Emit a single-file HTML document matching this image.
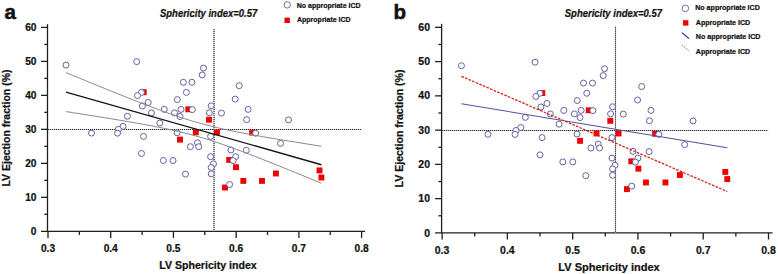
<!DOCTYPE html>
<html><head><meta charset="utf-8"><style>
html,body{margin:0;padding:0;background:#fff;width:778px;height:274px;overflow:hidden}
svg{display:block}
.b{font-family:"Liberation Sans",sans-serif;font-weight:bold;fill:#111;stroke:#111;stroke-width:0.22px}
.bi{font-family:"Liberation Sans",sans-serif;font-weight:bold;font-style:italic;fill:#111;stroke:#111;stroke-width:0.22px}
</style></head><body>
<svg width="778" height="274" viewBox="0 0 778 274">
<text x="4.6" y="19.1" font-size="20.6" class="b" style="stroke-width:0.5px">a</text>
<text x="160" y="16.8" font-size="10.1" textLength="97.2" lengthAdjust="spacingAndGlyphs" class="bi">Sphericity index=0.57</text>
<circle cx="287.3" cy="4.9" r="3.2" fill="#fff" stroke="#7070aa" stroke-width="1.0"/>
<rect x="284.5" y="17.6" width="5.4" height="5.4" fill="#f00000"/>
<text x="296.8" y="7.7" font-size="7.0" class="b">No appropriate ICD</text>
<text x="297" y="22" font-size="7.0" class="b">Appropriate ICD</text>
<line x1="47.5" y1="24.2" x2="47.5" y2="231.3" stroke="#1e1e1e" stroke-width="1.3" />
<line x1="41" y1="231.3" x2="365" y2="231.3" stroke="#1e1e1e" stroke-width="1.3" />
<text x="36.5" y="234.9" font-size="10.2" text-anchor="end" class="b">0</text>
<line x1="44.3" y1="214.31" x2="47.5" y2="214.31" stroke="#1e1e1e" stroke-width="1.3" />
<line x1="41" y1="197.32" x2="47.5" y2="197.32" stroke="#1e1e1e" stroke-width="1.3" />
<text x="36.5" y="200.92" font-size="10.2" text-anchor="end" class="b">10</text>
<line x1="44.3" y1="180.33" x2="47.5" y2="180.33" stroke="#1e1e1e" stroke-width="1.3" />
<line x1="41" y1="163.34" x2="47.5" y2="163.34" stroke="#1e1e1e" stroke-width="1.3" />
<text x="36.5" y="166.94" font-size="10.2" text-anchor="end" class="b">20</text>
<line x1="44.3" y1="146.35" x2="47.5" y2="146.35" stroke="#1e1e1e" stroke-width="1.3" />
<line x1="41" y1="129.36" x2="47.5" y2="129.36" stroke="#1e1e1e" stroke-width="1.3" />
<text x="36.5" y="132.96" font-size="10.2" text-anchor="end" class="b">30</text>
<line x1="44.3" y1="112.37" x2="47.5" y2="112.37" stroke="#1e1e1e" stroke-width="1.3" />
<line x1="41" y1="95.38" x2="47.5" y2="95.38" stroke="#1e1e1e" stroke-width="1.3" />
<text x="36.5" y="98.98" font-size="10.2" text-anchor="end" class="b">40</text>
<line x1="44.3" y1="78.39" x2="47.5" y2="78.39" stroke="#1e1e1e" stroke-width="1.3" />
<line x1="41" y1="61.4" x2="47.5" y2="61.4" stroke="#1e1e1e" stroke-width="1.3" />
<text x="36.5" y="65" font-size="10.2" text-anchor="end" class="b">50</text>
<line x1="44.3" y1="44.41" x2="47.5" y2="44.41" stroke="#1e1e1e" stroke-width="1.3" />
<line x1="41" y1="27.42" x2="47.5" y2="27.42" stroke="#1e1e1e" stroke-width="1.3" />
<text x="36.5" y="31.02" font-size="10.2" text-anchor="end" class="b">60</text>
<line x1="48" y1="231.3" x2="48" y2="237.9" stroke="#1e1e1e" stroke-width="1.3" />
<text x="48" y="252.3" font-size="10.2" text-anchor="middle" class="b">0.3</text>
<line x1="79.36" y1="231.3" x2="79.36" y2="234.9" stroke="#1e1e1e" stroke-width="1.3" />
<line x1="110.72" y1="231.3" x2="110.72" y2="237.9" stroke="#1e1e1e" stroke-width="1.3" />
<text x="110.72" y="252.3" font-size="10.2" text-anchor="middle" class="b">0.4</text>
<line x1="142.08" y1="231.3" x2="142.08" y2="234.9" stroke="#1e1e1e" stroke-width="1.3" />
<line x1="173.44" y1="231.3" x2="173.44" y2="237.9" stroke="#1e1e1e" stroke-width="1.3" />
<text x="173.44" y="252.3" font-size="10.2" text-anchor="middle" class="b">0.5</text>
<line x1="204.8" y1="231.3" x2="204.8" y2="234.9" stroke="#1e1e1e" stroke-width="1.3" />
<line x1="236.16" y1="231.3" x2="236.16" y2="237.9" stroke="#1e1e1e" stroke-width="1.3" />
<text x="236.16" y="252.3" font-size="10.2" text-anchor="middle" class="b">0.6</text>
<line x1="267.52" y1="231.3" x2="267.52" y2="234.9" stroke="#1e1e1e" stroke-width="1.3" />
<line x1="298.88" y1="231.3" x2="298.88" y2="237.9" stroke="#1e1e1e" stroke-width="1.3" />
<text x="298.88" y="252.3" font-size="10.2" text-anchor="middle" class="b">0.7</text>
<line x1="330.24" y1="231.3" x2="330.24" y2="234.9" stroke="#1e1e1e" stroke-width="1.3" />
<line x1="361.6" y1="231.3" x2="361.6" y2="237.9" stroke="#1e1e1e" stroke-width="1.3" />
<text x="361.6" y="252.3" font-size="10.2" text-anchor="middle" class="b">0.8</text>
<text x="208" y="268.8" font-size="10.6" text-anchor="middle" class="b">LV Sphericity index</text>
<text transform="translate(9.9,128) rotate(-90)" font-size="10.5" text-anchor="middle" class="b">LV Ejection fraction (%)</text>
<line x1="48" y1="129.5" x2="361.3" y2="129.5" stroke="#c8c8c8" stroke-width="1.0" />
<line x1="48" y1="129.5" x2="361.3" y2="129.5" stroke="#222" stroke-width="1.0" stroke-dasharray="1 1"/>
<line x1="214.02" y1="29.12" x2="214.02" y2="231.3" stroke="#c0c0c0" stroke-width="1.0" />
<line x1="214.02" y1="29.12" x2="214.02" y2="231.3" stroke="#2a2a2a" stroke-width="1.15" stroke-dasharray="1 1"/>
<rect x="140.75" y="89.25" width="5.9" height="5.9" fill="#f00000"/>
<rect x="185.35" y="106.35" width="5.9" height="5.9" fill="#f00000"/>
<rect x="177.05" y="136.65" width="5.9" height="5.9" fill="#f00000"/>
<rect x="192.85" y="129.35" width="5.9" height="5.9" fill="#f00000"/>
<rect x="206.05" y="116.75" width="5.9" height="5.9" fill="#f00000"/>
<rect x="214.05" y="129.35" width="5.9" height="5.9" fill="#f00000"/>
<rect x="249.15" y="129.65" width="5.9" height="5.9" fill="#f00000"/>
<rect x="226.25" y="156.95" width="5.9" height="5.9" fill="#f00000"/>
<rect x="233.05" y="164.25" width="5.9" height="5.9" fill="#f00000"/>
<rect x="240.35" y="177.95" width="5.9" height="5.9" fill="#f00000"/>
<rect x="259.05" y="177.95" width="5.9" height="5.9" fill="#f00000"/>
<rect x="222.05" y="184.55" width="5.9" height="5.9" fill="#f00000"/>
<rect x="272.95" y="170.55" width="5.9" height="5.9" fill="#f00000"/>
<rect x="316.55" y="167.45" width="5.9" height="5.9" fill="#f00000"/>
<rect x="318.45" y="174.55" width="5.9" height="5.9" fill="#f00000"/>
<circle cx="66" cy="65.1" r="3" fill="#fff" stroke="#6262a2" stroke-width="1.0"/>
<circle cx="136.7" cy="61.6" r="3" fill="#fff" stroke="#6262a2" stroke-width="1.0"/>
<circle cx="183.3" cy="82.3" r="3" fill="#fff" stroke="#6262a2" stroke-width="1.0"/>
<circle cx="191.9" cy="82.3" r="3" fill="#fff" stroke="#6262a2" stroke-width="1.0"/>
<circle cx="203.5" cy="68.1" r="3" fill="#fff" stroke="#6262a2" stroke-width="1.0"/>
<circle cx="202.2" cy="74.9" r="3" fill="#fff" stroke="#6262a2" stroke-width="1.0"/>
<circle cx="186.4" cy="92.4" r="3" fill="#fff" stroke="#6262a2" stroke-width="1.0"/>
<circle cx="177.3" cy="99.6" r="3" fill="#fff" stroke="#6262a2" stroke-width="1.0"/>
<circle cx="141.4" cy="92.4" r="3" fill="#fff" stroke="#6262a2" stroke-width="1.0"/>
<circle cx="137.5" cy="95.6" r="3" fill="#fff" stroke="#6262a2" stroke-width="1.0"/>
<circle cx="148.2" cy="102.5" r="3" fill="#fff" stroke="#6262a2" stroke-width="1.0"/>
<circle cx="142.4" cy="106" r="3" fill="#fff" stroke="#6262a2" stroke-width="1.0"/>
<circle cx="164.3" cy="109.4" r="3" fill="#fff" stroke="#6262a2" stroke-width="1.0"/>
<circle cx="181" cy="109.4" r="3" fill="#fff" stroke="#6262a2" stroke-width="1.0"/>
<circle cx="192.3" cy="109.6" r="3" fill="#fff" stroke="#6262a2" stroke-width="1.0"/>
<circle cx="174.5" cy="112.9" r="3" fill="#fff" stroke="#6262a2" stroke-width="1.0"/>
<circle cx="180" cy="116.5" r="3" fill="#fff" stroke="#6262a2" stroke-width="1.0"/>
<circle cx="151.4" cy="112.9" r="3" fill="#fff" stroke="#6262a2" stroke-width="1.0"/>
<circle cx="127.4" cy="116.3" r="3" fill="#fff" stroke="#6262a2" stroke-width="1.0"/>
<circle cx="159.8" cy="123.1" r="3" fill="#fff" stroke="#6262a2" stroke-width="1.0"/>
<circle cx="123" cy="126.4" r="3" fill="#fff" stroke="#6262a2" stroke-width="1.0"/>
<circle cx="118.4" cy="129.3" r="3" fill="#fff" stroke="#6262a2" stroke-width="1.0"/>
<circle cx="117.5" cy="133.2" r="3" fill="#fff" stroke="#6262a2" stroke-width="1.0"/>
<circle cx="91.5" cy="133.1" r="3" fill="#fff" stroke="#6262a2" stroke-width="1.0"/>
<circle cx="143.5" cy="136.4" r="3" fill="#fff" stroke="#6262a2" stroke-width="1.0"/>
<circle cx="177.1" cy="132.8" r="3" fill="#fff" stroke="#6262a2" stroke-width="1.0"/>
<circle cx="190.4" cy="146.7" r="3" fill="#fff" stroke="#6262a2" stroke-width="1.0"/>
<circle cx="197.5" cy="142.8" r="3" fill="#fff" stroke="#6262a2" stroke-width="1.0"/>
<circle cx="198.7" cy="146.7" r="3" fill="#fff" stroke="#6262a2" stroke-width="1.0"/>
<circle cx="141.5" cy="153.5" r="3" fill="#fff" stroke="#6262a2" stroke-width="1.0"/>
<circle cx="163.4" cy="160.5" r="3" fill="#fff" stroke="#6262a2" stroke-width="1.0"/>
<circle cx="173" cy="160.5" r="3" fill="#fff" stroke="#6262a2" stroke-width="1.0"/>
<circle cx="185.5" cy="174.1" r="3" fill="#fff" stroke="#6262a2" stroke-width="1.0"/>
<circle cx="239.2" cy="85.7" r="3" fill="#fff" stroke="#6262a2" stroke-width="1.0"/>
<circle cx="235.2" cy="99.1" r="3" fill="#fff" stroke="#6262a2" stroke-width="1.0"/>
<circle cx="211.2" cy="105.8" r="3" fill="#fff" stroke="#6262a2" stroke-width="1.0"/>
<circle cx="209.3" cy="112.8" r="3" fill="#fff" stroke="#6262a2" stroke-width="1.0"/>
<circle cx="221.5" cy="113.1" r="3" fill="#fff" stroke="#6262a2" stroke-width="1.0"/>
<circle cx="248.1" cy="109.4" r="3" fill="#fff" stroke="#6262a2" stroke-width="1.0"/>
<circle cx="246.6" cy="119.7" r="3" fill="#fff" stroke="#6262a2" stroke-width="1.0"/>
<circle cx="288.5" cy="119.9" r="3" fill="#fff" stroke="#6262a2" stroke-width="1.0"/>
<circle cx="255.6" cy="133.2" r="3" fill="#fff" stroke="#6262a2" stroke-width="1.0"/>
<circle cx="210.6" cy="136.4" r="3" fill="#fff" stroke="#6262a2" stroke-width="1.0"/>
<circle cx="280.5" cy="143.4" r="3" fill="#fff" stroke="#6262a2" stroke-width="1.0"/>
<circle cx="230.9" cy="150" r="3" fill="#fff" stroke="#6262a2" stroke-width="1.0"/>
<circle cx="246.3" cy="150.3" r="3" fill="#fff" stroke="#6262a2" stroke-width="1.0"/>
<circle cx="210.6" cy="156.7" r="3" fill="#fff" stroke="#6262a2" stroke-width="1.0"/>
<circle cx="235.6" cy="156.7" r="3" fill="#fff" stroke="#6262a2" stroke-width="1.0"/>
<circle cx="233.1" cy="160.6" r="3" fill="#fff" stroke="#6262a2" stroke-width="1.0"/>
<circle cx="213.5" cy="163.8" r="3" fill="#fff" stroke="#6262a2" stroke-width="1.0"/>
<circle cx="211.2" cy="167.4" r="3" fill="#fff" stroke="#6262a2" stroke-width="1.0"/>
<circle cx="211.2" cy="173.8" r="3" fill="#fff" stroke="#6262a2" stroke-width="1.0"/>
<circle cx="229.6" cy="184.5" r="3" fill="#fff" stroke="#6262a2" stroke-width="1.0"/>
<line x1="66" y1="92.08" x2="321.4" y2="164.74" stroke="#151515" stroke-width="1.35" />
<polyline points="66,72.58 72.55,75.29 79.1,77.99 85.65,80.69 92.19,83.37 98.74,86.05 105.29,88.72 111.84,91.37 118.39,94.01 124.94,96.63 131.49,99.22 138.04,101.8 144.58,104.34 151.13,106.84 157.68,109.29 164.23,111.69 170.78,114.02 177.33,116.26 183.88,118.42 190.43,120.47 196.97,122.4 203.52,124.21 210.07,125.91 216.62,127.5 223.17,129 229.72,130.41 236.27,131.75 242.82,133.03 249.36,134.27 255.91,135.46 262.46,136.62 269.01,137.75 275.56,138.86 282.11,139.95 288.66,141.03 295.21,142.09 301.75,143.14 308.3,144.18 314.85,145.22 321.4,146.24" fill="none" stroke="#8a8a8a" stroke-width="1.0"/>
<polyline points="66,111.58 72.55,112.6 79.1,113.62 85.65,114.66 92.19,115.7 98.74,116.74 105.29,117.81 111.84,118.88 118.39,119.97 124.94,121.07 131.49,122.2 138.04,123.36 144.58,124.54 151.13,125.77 157.68,127.04 164.23,128.37 170.78,129.77 177.33,131.24 183.88,132.82 190.43,134.5 196.97,136.29 203.52,138.2 210.07,140.23 216.62,142.36 223.17,144.59 229.72,146.91 236.27,149.3 242.82,151.74 249.36,154.23 255.91,156.77 262.46,159.33 269.01,161.93 275.56,164.54 282.11,167.18 288.66,169.83 295.21,172.49 301.75,175.17 308.3,177.85 314.85,180.54 321.4,183.24" fill="none" stroke="#8a8a8a" stroke-width="1.0"/>
<text x="393.4" y="19.1" font-size="20.6" class="b" style="stroke-width:0.5px">b</text>
<text x="564.8" y="16.8" font-size="10.1" textLength="97.2" lengthAdjust="spacingAndGlyphs" class="bi">Sphericity index=0.57</text>
<circle cx="685.4" cy="8.4" r="3.3" fill="#fff" stroke="#7070aa" stroke-width="1.0"/>
<rect x="683" y="20.2" width="5.4" height="5.4" fill="#f00000"/>
<text x="695.2" y="10.1" font-size="7.1" class="b">No appropriate ICD</text>
<text x="695.8" y="24.5" font-size="7.1" class="b">Appropriate ICD</text>
<line x1="681.9" y1="32.7" x2="688.9" y2="38.5" stroke="#2a2a88" stroke-width="1.1"/>
<text x="695.8" y="39.2" font-size="7.1" class="b">No appropriate ICD</text>
<line x1="681.9" y1="44.9" x2="688.9" y2="50.7" stroke="#e85858" stroke-width="1.0" stroke-dasharray="1.6 0.8"/>
<text x="695.8" y="53.6" font-size="7.1" class="b">Appropriate ICD</text>
<line x1="441.6" y1="23.8" x2="441.6" y2="232.9" stroke="#1e1e1e" stroke-width="1.3" />
<line x1="435.1" y1="232.9" x2="772.6" y2="232.9" stroke="#1e1e1e" stroke-width="1.3" />
<text x="430" y="236.5" font-size="10.5" text-anchor="end" class="b">0</text>
<line x1="438.4" y1="215.77" x2="441.6" y2="215.77" stroke="#1e1e1e" stroke-width="1.3" />
<line x1="435.1" y1="198.64" x2="441.6" y2="198.64" stroke="#1e1e1e" stroke-width="1.3" />
<text x="430" y="202.24" font-size="10.5" text-anchor="end" class="b">10</text>
<line x1="438.4" y1="181.51" x2="441.6" y2="181.51" stroke="#1e1e1e" stroke-width="1.3" />
<line x1="435.1" y1="164.38" x2="441.6" y2="164.38" stroke="#1e1e1e" stroke-width="1.3" />
<text x="430" y="167.98" font-size="10.5" text-anchor="end" class="b">20</text>
<line x1="438.4" y1="147.25" x2="441.6" y2="147.25" stroke="#1e1e1e" stroke-width="1.3" />
<line x1="435.1" y1="130.12" x2="441.6" y2="130.12" stroke="#1e1e1e" stroke-width="1.3" />
<text x="430" y="133.72" font-size="10.5" text-anchor="end" class="b">30</text>
<line x1="438.4" y1="112.99" x2="441.6" y2="112.99" stroke="#1e1e1e" stroke-width="1.3" />
<line x1="435.1" y1="95.86" x2="441.6" y2="95.86" stroke="#1e1e1e" stroke-width="1.3" />
<text x="430" y="99.46" font-size="10.5" text-anchor="end" class="b">40</text>
<line x1="438.4" y1="78.73" x2="441.6" y2="78.73" stroke="#1e1e1e" stroke-width="1.3" />
<line x1="435.1" y1="61.6" x2="441.6" y2="61.6" stroke="#1e1e1e" stroke-width="1.3" />
<text x="430" y="65.2" font-size="10.5" text-anchor="end" class="b">50</text>
<line x1="438.4" y1="44.47" x2="441.6" y2="44.47" stroke="#1e1e1e" stroke-width="1.3" />
<line x1="435.1" y1="27.34" x2="441.6" y2="27.34" stroke="#1e1e1e" stroke-width="1.3" />
<text x="430" y="30.94" font-size="10.5" text-anchor="end" class="b">60</text>
<line x1="442.1" y1="232.9" x2="442.1" y2="239.5" stroke="#1e1e1e" stroke-width="1.3" />
<text x="442.1" y="254" font-size="10.5" text-anchor="middle" class="b">0.3</text>
<line x1="474.74" y1="232.9" x2="474.74" y2="236.5" stroke="#1e1e1e" stroke-width="1.3" />
<line x1="507.38" y1="232.9" x2="507.38" y2="239.5" stroke="#1e1e1e" stroke-width="1.3" />
<text x="507.38" y="254" font-size="10.5" text-anchor="middle" class="b">0.4</text>
<line x1="540.02" y1="232.9" x2="540.02" y2="236.5" stroke="#1e1e1e" stroke-width="1.3" />
<line x1="572.66" y1="232.9" x2="572.66" y2="239.5" stroke="#1e1e1e" stroke-width="1.3" />
<text x="572.66" y="254" font-size="10.5" text-anchor="middle" class="b">0.5</text>
<line x1="605.3" y1="232.9" x2="605.3" y2="236.5" stroke="#1e1e1e" stroke-width="1.3" />
<line x1="637.94" y1="232.9" x2="637.94" y2="239.5" stroke="#1e1e1e" stroke-width="1.3" />
<text x="637.94" y="254" font-size="10.5" text-anchor="middle" class="b">0.6</text>
<line x1="670.58" y1="232.9" x2="670.58" y2="236.5" stroke="#1e1e1e" stroke-width="1.3" />
<line x1="703.22" y1="232.9" x2="703.22" y2="239.5" stroke="#1e1e1e" stroke-width="1.3" />
<text x="703.22" y="254" font-size="10.5" text-anchor="middle" class="b">0.7</text>
<line x1="735.86" y1="232.9" x2="735.86" y2="236.5" stroke="#1e1e1e" stroke-width="1.3" />
<line x1="768.5" y1="232.9" x2="768.5" y2="239.5" stroke="#1e1e1e" stroke-width="1.3" />
<text x="768.5" y="254" font-size="10.5" text-anchor="middle" class="b">0.8</text>
<text x="609" y="270.8" font-size="11.0" text-anchor="middle" class="b">LV Sphericity index</text>
<text transform="translate(403,128.5) rotate(-90)" font-size="10.6" text-anchor="middle" class="b">LV Ejection fraction (%)</text>
<line x1="442.1" y1="130.5" x2="768.2" y2="130.5" stroke="#c8c8c8" stroke-width="1.0" />
<line x1="442.1" y1="130.5" x2="768.2" y2="130.5" stroke="#222" stroke-width="1.0" stroke-dasharray="1 1"/>
<line x1="615.5" y1="26.71" x2="615.5" y2="232.9" stroke="#c0c0c0" stroke-width="1.0" />
<line x1="615.5" y1="26.71" x2="615.5" y2="232.9" stroke="#2a2a2a" stroke-width="1.15" stroke-dasharray="1 1"/>
<rect x="539.36" y="90.1" width="5.9" height="5.9" fill="#f00000"/>
<rect x="585.78" y="107.34" width="5.9" height="5.9" fill="#f00000"/>
<rect x="577.14" y="137.89" width="5.9" height="5.9" fill="#f00000"/>
<rect x="593.58" y="130.53" width="5.9" height="5.9" fill="#f00000"/>
<rect x="607.32" y="117.83" width="5.9" height="5.9" fill="#f00000"/>
<rect x="615.65" y="130.53" width="5.9" height="5.9" fill="#f00000"/>
<rect x="652.18" y="130.84" width="5.9" height="5.9" fill="#f00000"/>
<rect x="628.35" y="158.36" width="5.9" height="5.9" fill="#f00000"/>
<rect x="635.42" y="165.72" width="5.9" height="5.9" fill="#f00000"/>
<rect x="643.02" y="179.53" width="5.9" height="5.9" fill="#f00000"/>
<rect x="662.48" y="179.53" width="5.9" height="5.9" fill="#f00000"/>
<rect x="623.97" y="186.19" width="5.9" height="5.9" fill="#f00000"/>
<rect x="676.95" y="172.07" width="5.9" height="5.9" fill="#f00000"/>
<rect x="722.33" y="168.95" width="5.9" height="5.9" fill="#f00000"/>
<rect x="724.31" y="176.11" width="5.9" height="5.9" fill="#f00000"/>
<circle cx="461.43" cy="65.73" r="3" fill="#fff" stroke="#6262a2" stroke-width="1.0"/>
<circle cx="535.02" cy="62.2" r="3" fill="#fff" stroke="#6262a2" stroke-width="1.0"/>
<circle cx="583.52" cy="83.07" r="3" fill="#fff" stroke="#6262a2" stroke-width="1.0"/>
<circle cx="592.47" cy="83.07" r="3" fill="#fff" stroke="#6262a2" stroke-width="1.0"/>
<circle cx="604.55" cy="68.76" r="3" fill="#fff" stroke="#6262a2" stroke-width="1.0"/>
<circle cx="603.19" cy="75.61" r="3" fill="#fff" stroke="#6262a2" stroke-width="1.0"/>
<circle cx="586.75" cy="93.26" r="3" fill="#fff" stroke="#6262a2" stroke-width="1.0"/>
<circle cx="577.28" cy="100.51" r="3" fill="#fff" stroke="#6262a2" stroke-width="1.0"/>
<circle cx="539.91" cy="93.26" r="3" fill="#fff" stroke="#6262a2" stroke-width="1.0"/>
<circle cx="535.85" cy="96.48" r="3" fill="#fff" stroke="#6262a2" stroke-width="1.0"/>
<circle cx="546.99" cy="103.44" r="3" fill="#fff" stroke="#6262a2" stroke-width="1.0"/>
<circle cx="540.95" cy="106.97" r="3" fill="#fff" stroke="#6262a2" stroke-width="1.0"/>
<circle cx="563.75" cy="110.4" r="3" fill="#fff" stroke="#6262a2" stroke-width="1.0"/>
<circle cx="581.13" cy="110.4" r="3" fill="#fff" stroke="#6262a2" stroke-width="1.0"/>
<circle cx="592.89" cy="110.6" r="3" fill="#fff" stroke="#6262a2" stroke-width="1.0"/>
<circle cx="574.36" cy="113.92" r="3" fill="#fff" stroke="#6262a2" stroke-width="1.0"/>
<circle cx="580.09" cy="117.55" r="3" fill="#fff" stroke="#6262a2" stroke-width="1.0"/>
<circle cx="550.32" cy="113.92" r="3" fill="#fff" stroke="#6262a2" stroke-width="1.0"/>
<circle cx="525.34" cy="117.35" r="3" fill="#fff" stroke="#6262a2" stroke-width="1.0"/>
<circle cx="559.06" cy="124.21" r="3" fill="#fff" stroke="#6262a2" stroke-width="1.0"/>
<circle cx="520.76" cy="127.54" r="3" fill="#fff" stroke="#6262a2" stroke-width="1.0"/>
<circle cx="515.97" cy="130.46" r="3" fill="#fff" stroke="#6262a2" stroke-width="1.0"/>
<circle cx="515.04" cy="134.39" r="3" fill="#fff" stroke="#6262a2" stroke-width="1.0"/>
<circle cx="487.98" cy="134.29" r="3" fill="#fff" stroke="#6262a2" stroke-width="1.0"/>
<circle cx="542.1" cy="137.62" r="3" fill="#fff" stroke="#6262a2" stroke-width="1.0"/>
<circle cx="577.07" cy="133.99" r="3" fill="#fff" stroke="#6262a2" stroke-width="1.0"/>
<circle cx="590.91" cy="148" r="3" fill="#fff" stroke="#6262a2" stroke-width="1.0"/>
<circle cx="598.3" cy="144.07" r="3" fill="#fff" stroke="#6262a2" stroke-width="1.0"/>
<circle cx="599.55" cy="148" r="3" fill="#fff" stroke="#6262a2" stroke-width="1.0"/>
<circle cx="540.02" cy="154.86" r="3" fill="#fff" stroke="#6262a2" stroke-width="1.0"/>
<circle cx="562.81" cy="161.92" r="3" fill="#fff" stroke="#6262a2" stroke-width="1.0"/>
<circle cx="572.8" cy="161.92" r="3" fill="#fff" stroke="#6262a2" stroke-width="1.0"/>
<circle cx="585.81" cy="175.63" r="3" fill="#fff" stroke="#6262a2" stroke-width="1.0"/>
<circle cx="641.7" cy="86.5" r="3" fill="#fff" stroke="#6262a2" stroke-width="1.0"/>
<circle cx="637.54" cy="100.01" r="3" fill="#fff" stroke="#6262a2" stroke-width="1.0"/>
<circle cx="612.56" cy="106.77" r="3" fill="#fff" stroke="#6262a2" stroke-width="1.0"/>
<circle cx="610.58" cy="113.82" r="3" fill="#fff" stroke="#6262a2" stroke-width="1.0"/>
<circle cx="623.28" cy="114.13" r="3" fill="#fff" stroke="#6262a2" stroke-width="1.0"/>
<circle cx="650.97" cy="110.4" r="3" fill="#fff" stroke="#6262a2" stroke-width="1.0"/>
<circle cx="649.41" cy="120.78" r="3" fill="#fff" stroke="#6262a2" stroke-width="1.0"/>
<circle cx="693.02" cy="120.98" r="3" fill="#fff" stroke="#6262a2" stroke-width="1.0"/>
<circle cx="658.77" cy="134.39" r="3" fill="#fff" stroke="#6262a2" stroke-width="1.0"/>
<circle cx="611.94" cy="137.62" r="3" fill="#fff" stroke="#6262a2" stroke-width="1.0"/>
<circle cx="684.69" cy="144.68" r="3" fill="#fff" stroke="#6262a2" stroke-width="1.0"/>
<circle cx="633.07" cy="151.33" r="3" fill="#fff" stroke="#6262a2" stroke-width="1.0"/>
<circle cx="649.09" cy="151.63" r="3" fill="#fff" stroke="#6262a2" stroke-width="1.0"/>
<circle cx="611.94" cy="158.09" r="3" fill="#fff" stroke="#6262a2" stroke-width="1.0"/>
<circle cx="637.96" cy="158.09" r="3" fill="#fff" stroke="#6262a2" stroke-width="1.0"/>
<circle cx="635.36" cy="162.02" r="3" fill="#fff" stroke="#6262a2" stroke-width="1.0"/>
<circle cx="614.96" cy="165.24" r="3" fill="#fff" stroke="#6262a2" stroke-width="1.0"/>
<circle cx="612.56" cy="168.87" r="3" fill="#fff" stroke="#6262a2" stroke-width="1.0"/>
<circle cx="612.56" cy="175.33" r="3" fill="#fff" stroke="#6262a2" stroke-width="1.0"/>
<circle cx="631.71" cy="186.11" r="3" fill="#fff" stroke="#6262a2" stroke-width="1.0"/>
<line x1="461.43" y1="103.76" x2="727.26" y2="147.83" stroke="#5252a2" stroke-width="1.1" />
<line x1="461.43" y1="76.31" x2="727.26" y2="191.49" stroke="#e02020" stroke-width="1.3" stroke-dasharray="2.6 1.3"/>
</svg>
</body></html>
